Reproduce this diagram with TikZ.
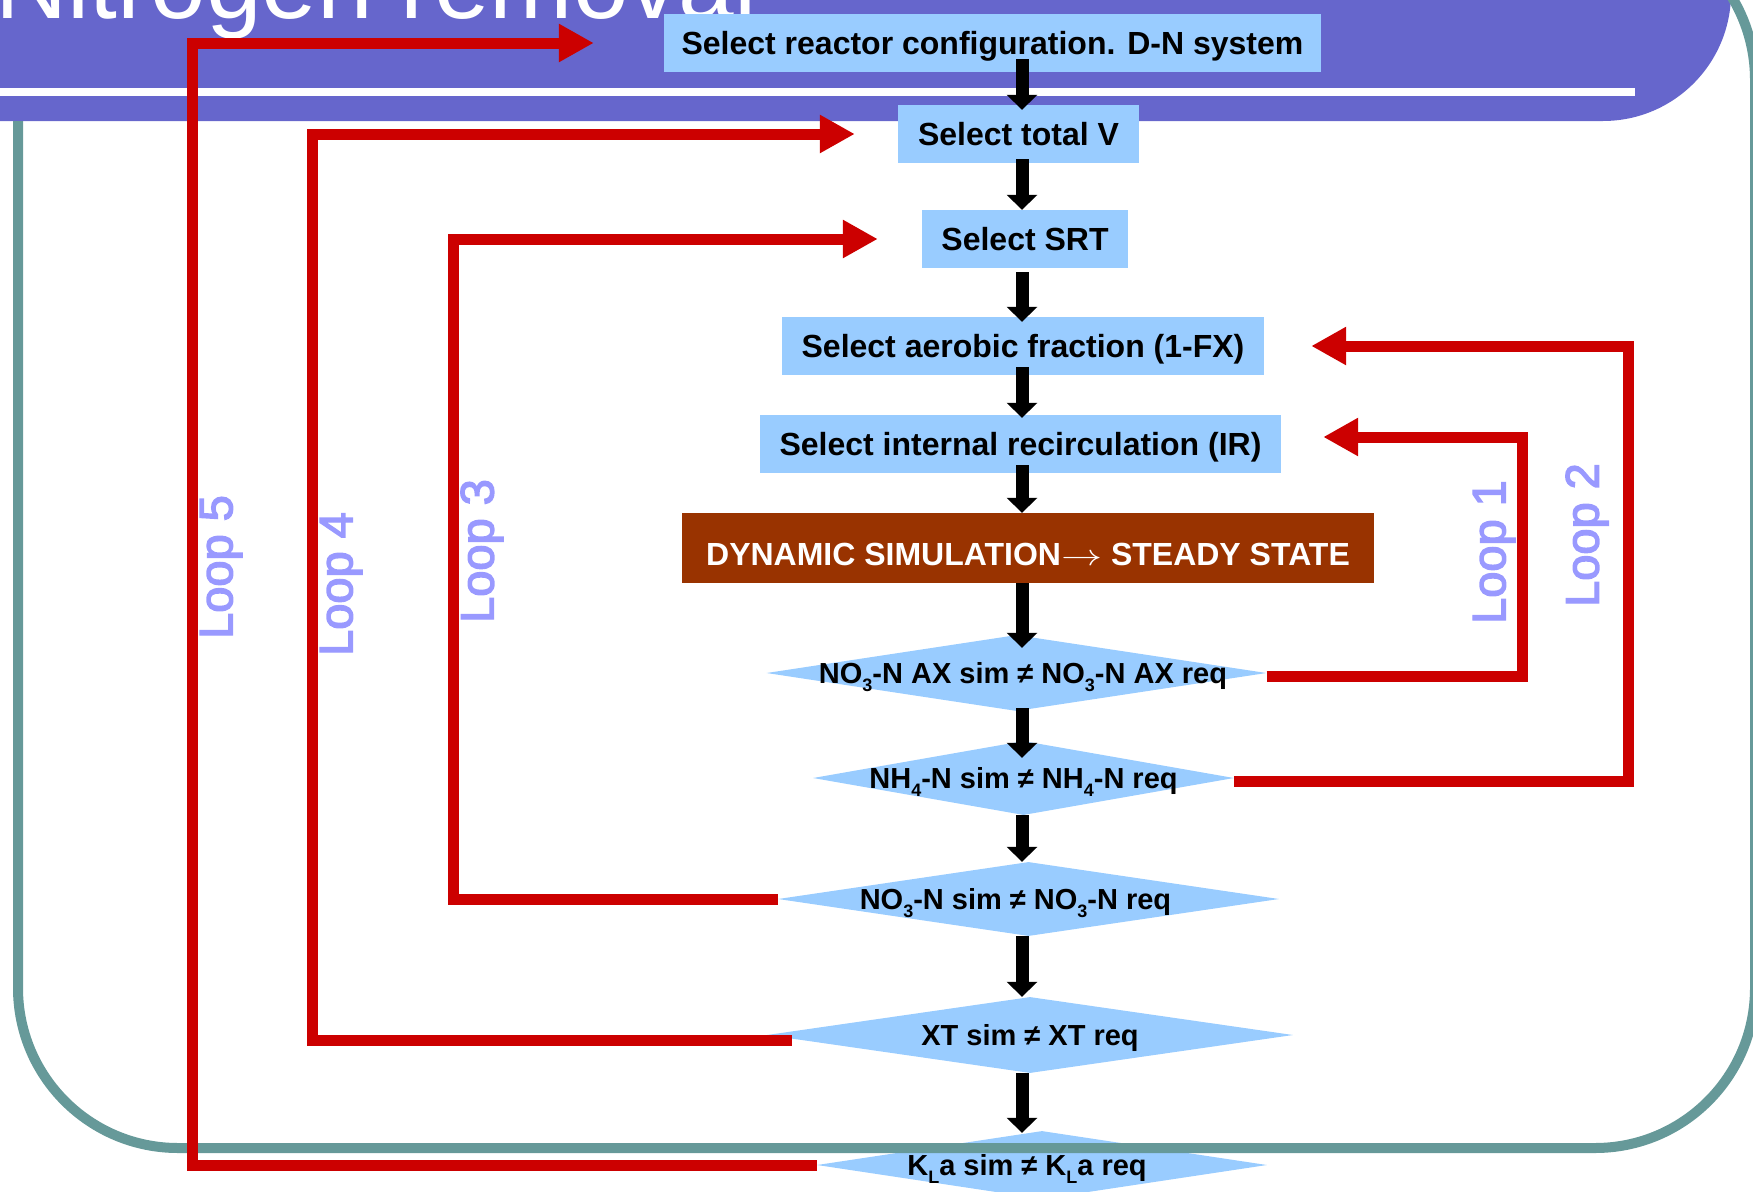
\documentclass[tikz,border=0pt]{standalone}
\usepackage{fontspec}
\setmainfont{Liberation Sans}
\newfontfamily\tagfont[FakeBold=3]{Liberation Sans}
\usepackage{graphicx}
\usetikzlibrary{arrows.meta,shapes.geometric}

\definecolor{bandpurple}{HTML}{6666CC}
\definecolor{boxblue}{HTML}{99CCFF}
\definecolor{simbrown}{HTML}{993300}
\definecolor{loopred}{HTML}{CC0000}
\definecolor{frameteal}{HTML}{669999}
\definecolor{looplabel}{HTML}{9999FF}

% lowered index digits/letters inside the test conditions
\newcommand\lowsub[1]{\raisebox{-8pt}{\fontsize{18pt}{18pt}\selectfont #1}}
% zero-width text for the diamonds, with a horizontal offset (twice the shift)
\newcommand\dtext[2]{\makebox[0pt]{\hspace*{#1}#2}}

\tikzset{
  stepbox/.style={rectangle, fill=boxblue, inner sep=0pt, text height=23pt, text depth=0pt,
    minimum height=58pt, font=\fontsize{32pt}{36pt}\selectfont\bfseries},
  testbox/.style={diamond, fill=boxblue, inner sep=0pt, aspect=1, text height=21pt, text depth=0pt,
    font=\fontsize{29pt}{33pt}\selectfont\bfseries},
  flow/.style={line width=13pt, -{Triangle[length=15pt,width=30pt]}},
  loopline/.style={draw=loopred, line width=11pt, line join=miter,
    -{Triangle[length=35pt,width=36pt]}},
  looptag/.style={text=looplabel, rotate=90, inner sep=0pt,
    font=\tagfont\fontsize{47pt}{50pt}\selectfont},
}

\begin{document}
\begin{tikzpicture}[x=1pt,y=-1pt]
\useasboundingbox (0,0) rectangle (1753,1191);
\clip (0,0) rectangle (1753,1191);

% header band with its white rule
\fill[bandpurple, rounded corners=128pt] (-300,-400) rectangle (1731,121);
\fill[white] (-10,88) rectangle (1635,96);
\node[anchor=base west, inner sep=0pt, text=white,
      font=\fontsize{100pt}{110pt}\selectfont] (title) at (-5,19) {Nitrogen removal};

% selection steps
\node[stepbox, minimum width=657pt] (b1) at (992.5,43) {Select reactor configuration. D-N system};
\node[stepbox, minimum width=241pt] (b2) at (1018.5,134) {Select total V};
\node[stepbox, minimum width=206pt] (b3) at (1025,239) {Select SRT};
\node[stepbox, minimum width=482pt] (b4) at (1023,346) {Select aerobic fraction (1-FX)};
\node[stepbox, minimum width=521pt] (b5) at (1020.5,444) {Select internal recirculation (IR)};
\node[stepbox, fill=simbrown, text=white, minimum width=692pt, minimum height=70pt,
      text height=34pt] (dyn) at (1028,548)
      {DYNAMIC SIMULATION\scalebox{1.65}[1.2]{$\rightarrow$} STEADY STATE};

% checks
\node[testbox, minimum width=500pt, minimum height=76pt] (d7) at (1016.5,673)
  {\dtext{13pt}{NO\lowsub{3}-N AX sim ≠ NO\lowsub{3}-N AX req}};
\node[testbox, minimum width=421pt, minimum height=74pt] (d8) at (1023.5,778)
  {\dtext{0pt}{NH\lowsub{4}-N sim ≠ NH\lowsub{4}-N req}};
\node[testbox, minimum width=501pt, minimum height=74pt] (d9) at (1028.5,899)
  {\dtext{-26pt}{NO\lowsub{3}-N sim ≠ NO\lowsub{3}-N req}};
\node[testbox, minimum width=526pt, minimum height=76pt] (d10) at (1030,1035)
  {\dtext{0pt}{XT sim ≠ XT req}};
\node[testbox, minimum width=450pt, minimum height=68pt] (d11) at (1042,1165)
  {\dtext{-30pt}{K\lowsub{L}a sim ≠ K\lowsub{L}a req}};

% slide frame
\draw[frameteal, line width=10pt, rounded corners=160pt]
  (18,121) -- (18,1148) -- (1755,1148) -- (1755,-80) -- (1300,-80);

% main flow
\coordinate (ax) at (1022,0);
\draw[flow, shorten <=-13pt, shorten >=-5pt] (b1.south -| ax) -- (b2.north -| ax);
\draw[flow, shorten <=-4pt] (b2.south -| ax) -- (b3.north -| ax);
\draw[flow, shorten <=4pt, shorten >=-5pt] (b3.south -| ax) -- (b4.north -| ax);
\draw[flow, shorten <=-8pt, shorten >=-3pt] (b4.south -| ax) -- (b5.north -| ax);
\draw[flow, shorten <=-8pt] (b5.south -| ax) -- (dyn.north -| ax);
\draw[flow, shorten >=-13pt] (dyn.south -| ax) -- (d7.north -| ax);
\draw[flow, shorten <=-3pt, shorten >=-17pt] (d7.south -| ax) -- (d8.north -| ax);
\draw[flow] (d8.south -| ax) -- (d9.north -| ax);
\draw[flow] (d9.south -| ax) -- (d10.north -| ax);
\draw[flow, shorten >=-2pt] (d10.south -| ax) -- (d11.north -| ax);

% feedback loops
\coordinate (k1) at (1522,560);
\coordinate (k2) at (1628,560);
\coordinate (k3) at (453,560);
\coordinate (k4) at (312,560);
\coordinate (k5) at (192,560);
\draw[loopline] ([yshift=-3pt]d7.east) -| (k1) |- ([xshift=42pt,yshift=7pt]b5.east);
\draw[loopline] ([yshift=-3pt]d8.east) -| (k2) |- ([xshift=47pt]b4.east);
\draw[loopline] (d9.west) -| (k3) |- ([xshift=-44pt]b3.west);
\draw[loopline] ([xshift=25pt,yshift=-5pt]d10.west) -| (k4) |- ([xshift=-43pt]b2.west);
\draw[loopline] (d11.west) -| (k5) |- ([xshift=-70pt]b1.west);

% loop names
\node[looptag] (n1) at (1494,552) {Loop 1};
\node[looptag] (n2) at (1587,535) {Loop 2};
\node[looptag] (n3) at (482,551) {Loop 3};
\node[looptag] (n4) at (341,584) {Loop 4};
\node[looptag] (n5) at (221,567) {Loop 5};
\end{tikzpicture}
\end{document}
